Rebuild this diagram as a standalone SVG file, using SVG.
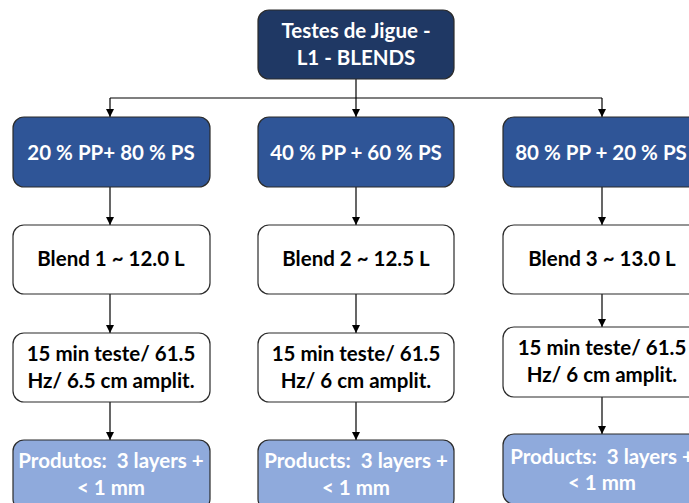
<svg xmlns="http://www.w3.org/2000/svg" width="689" height="503" viewBox="0 0 689 503">
<defs>
<marker id="ah" markerWidth="8" markerHeight="8" refX="8" refY="4" orient="auto" markerUnits="userSpaceOnUse">
<path d="M0,0 L8,4 L0,8 Z" fill="#000"/>
</marker>
<style>
.box{stroke:#2b2b2b;stroke-width:1.2}
.top{fill:#1F3864}
.mid{fill:#2F5597}
.wht{fill:#ffffff}
.lb{fill:#8FAADC}
text{font-family:Lato,"Open Sans","Liberation Sans",sans-serif;font-weight:bold;font-size:20.5px;text-anchor:middle}
.w{fill:#ffffff}
.k{fill:#000000}
.c{stroke:#000;stroke-width:1.2;fill:none}
</style>
</defs>
<rect width="689" height="503" fill="#ffffff"/>
<g id="connectors">
<line class="c" x1="356" y1="79" x2="356" y2="117" marker-end="url(#ah)"/>
<line class="c" x1="110" y1="98" x2="602" y2="98"/>
<line class="c" x1="110" y1="98" x2="110" y2="117" marker-end="url(#ah)"/>
<line class="c" x1="602" y1="98" x2="602" y2="117" marker-end="url(#ah)"/>
<line class="c" x1="110" y1="187" x2="110" y2="225" marker-end="url(#ah)"/>
<line class="c" x1="356" y1="187" x2="356" y2="225" marker-end="url(#ah)"/>
<line class="c" x1="602" y1="187" x2="602" y2="225" marker-end="url(#ah)"/>
<line class="c" x1="110" y1="294" x2="110" y2="333" marker-end="url(#ah)"/>
<line class="c" x1="356" y1="294" x2="356" y2="333" marker-end="url(#ah)"/>
<line class="c" x1="602" y1="294" x2="602" y2="327" marker-end="url(#ah)"/>
<line class="c" x1="110" y1="402" x2="110" y2="440" marker-end="url(#ah)"/>
<line class="c" x1="356" y1="402" x2="356" y2="440" marker-end="url(#ah)"/>
<line class="c" x1="602" y1="397" x2="602" y2="434" marker-end="url(#ah)"/>
</g>
<g id="n0"><rect class="box top" x="258" y="10" width="196" height="69" rx="11"/>
<text class="w" x="356" y="38">Testes de Jigue -</text><text class="w" x="356" y="65">L1 - BLENDS</text></g>
<g id="n1"><rect class="box mid" x="13" y="117" width="197" height="70" rx="11"/>
<text class="w" x="111" y="160">20 % PP+ 80 % PS</text></g>
<g id="n2"><rect class="box mid" x="258" y="117" width="196" height="70" rx="11"/>
<text class="w" x="356" y="160">40 % PP + 60 % PS</text></g>
<g id="n3"><rect class="box mid" x="503" y="117" width="197" height="70" rx="11"/>
<text class="w" x="601" y="160">80 % PP + 20 % PS</text></g>
<g id="n4"><rect class="box wht" x="13" y="225" width="197" height="69" rx="11"/>
<text class="k" x="111" y="266">Blend 1 ~ 12.0 L</text></g>
<g id="n5"><rect class="box wht" x="258" y="225" width="196" height="69" rx="11"/>
<text class="k" x="356" y="266">Blend 2 ~ 12.5 L</text></g>
<g id="n6"><rect class="box wht" x="503" y="225" width="197" height="69" rx="11"/>
<text class="k" x="602" y="266">Blend 3 ~ 13.0 L</text></g>
<g id="n7"><rect class="box wht" x="13" y="333" width="197" height="69" rx="11"/>
<text class="k" x="111" y="361">15 min teste/ 61.5</text><text class="k" x="111" y="388">Hz/ 6.5 cm amplit.</text></g>
<g id="n8"><rect class="box wht" x="258" y="333" width="196" height="69" rx="11"/>
<text class="k" x="356" y="361">15 min teste/ 61.5</text><text class="k" x="356" y="388">Hz/ 6 cm amplit.</text></g>
<g id="n9"><rect class="box wht" x="503" y="327" width="197" height="70" rx="11"/>
<text class="k" x="602" y="355">15 min teste/ 61.5</text><text class="k" x="602" y="382">Hz/ 6 cm amplit.</text></g>
<g id="n10"><rect class="box lb" x="13" y="440" width="197" height="70" rx="11"/>
<text class="w" x="111" y="468">Produtos:&#160; 3 layers +</text><text class="w" x="111" y="495">&lt; 1 mm</text></g>
<g id="n11"><rect class="box lb" x="258" y="440" width="196" height="70" rx="11"/>
<text class="w" x="356" y="468">Products:&#160; 3 layers +</text><text class="w" x="356" y="495">&lt; 1 mm</text></g>
<g id="n12"><rect class="box lb" x="503" y="434" width="197" height="70" rx="11"/>
<text class="w" x="602" y="464">Products:&#160; 3 layers +</text><text class="w" x="602" y="490">&lt; 1 mm</text></g>
</svg>
